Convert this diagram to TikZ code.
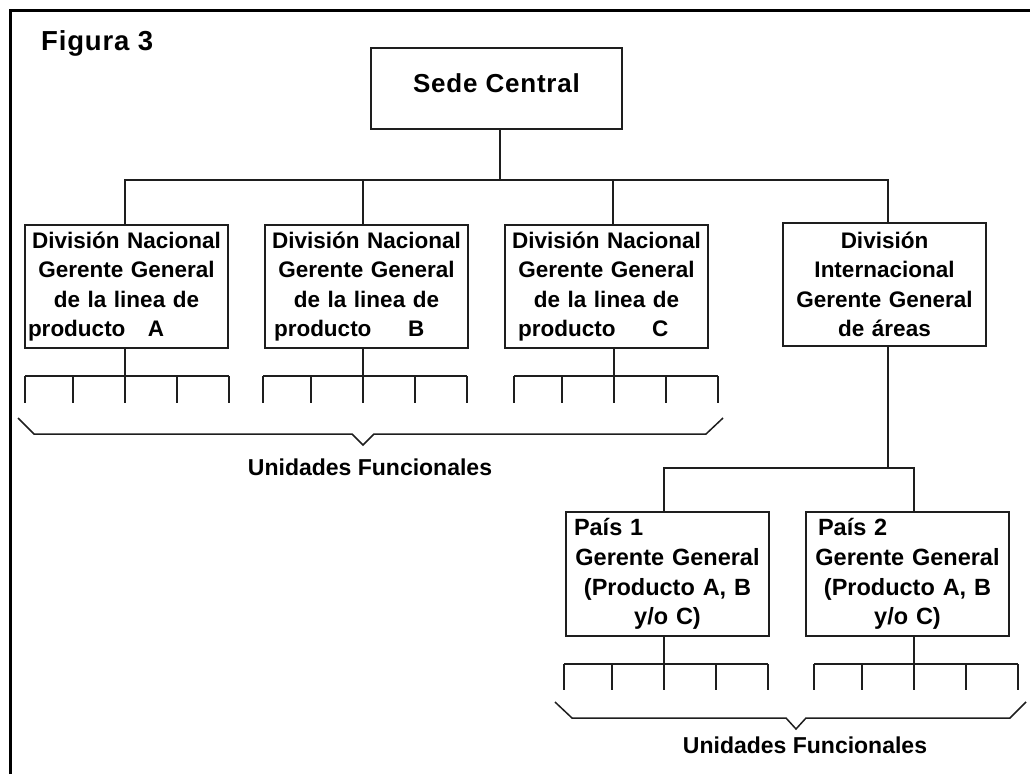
\documentclass[tikz,border=0pt]{standalone}
\usepackage{fontspec}
\setmainfont{Liberation Sans}
\definecolor{linec}{RGB}{30,30,30}
\tikzset{
  conn/.style={draw=linec, line width=1.6pt},
  orgbox/.style={draw=linec, line width=1.6pt, minimum width=203pt, minimum height=123pt,
    inner xsep=3pt, inner ysep=0pt, outer sep=0pt, text width=197pt, align=center,
    font=\fontsize{22.5}{29.5}\selectfont\bfseries},
  paisbox/.style={orgbox, minimum height=124pt, font=\fontsize{23.5}{29.7}\selectfont\bfseries},
  bracel/.style={draw=linec, line width=1.5pt, line join=miter},
  uflabel/.style={font=\fontsize{23}{27}\selectfont\bfseries, anchor=base, inner sep=0pt},
  comb/.pic={
    \draw[conn] (-100,0) -- (104,0);
    \foreach \dx in {-100,-52,0,52,104} \draw[conn] (\dx,0) -- (\dx,#1);
  },
}
\begin{document}
\begin{tikzpicture}[x=1pt,y=-1pt]
\useasboundingbox (0,0) rectangle (1030,774);
\fill[white] (0,0) rectangle (1030,774);
% frame (open towards right and bottom)
\draw[line width=3pt, black] (10,774) -- (10,10) -- (1030,10);

\node[anchor=base west, inner sep=0pt, font=\fontsize{27.5}{32}\selectfont\bfseries\addfontfeature{LetterSpace=3}] (fig) at (41,50) {Figura 3};

\node[draw=linec, line width=1.6pt, outer sep=0pt, minimum width=251pt, minimum height=81pt, inner sep=0pt,
  text height=20pt, text depth=13pt, font=\fontsize{26}{30}\selectfont\bfseries\addfontfeature{LetterSpace=3}]
  (sede) at (496.5,88.5) {Sede Central};

\node[orgbox, anchor=north west] (a) at (25,225) {División Nacional\\Gerente General\\de la linea de\\\makebox[197pt][l]{\rlap{producto}\hspace{120pt}A}};
\node[orgbox, anchor=north west] (b) at (265,225) {División Nacional\\Gerente General\\de la linea de\\\makebox[197pt][l]{\hspace{6pt}\rlap{producto}\hspace{134pt}B}};
\node[orgbox, anchor=north west] (c) at (505,225) {División Nacional\\Gerente General\\de la linea de\\\makebox[197pt][l]{\hspace{10pt}\rlap{producto}\hspace{134pt}C}};
\node[orgbox, anchor=north west] (intl) at (783,223) {División\\Internacional\\Gerente General\\de áreas};

\node[paisbox, anchor=north west] (p1) at (566,512) {\makebox[197pt][l]{\hspace{5pt}País 1}\\Gerente General\\(Producto A, B\\y/o C)};
\node[paisbox, anchor=north west] (p2) at (806,512) {\makebox[197pt][l]{\hspace{9pt}País 2}\\Gerente General\\(Producto A, B\\y/o C)};

% junction points
\coordinate (jS) at (500,180);
\coordinate (jA) at (125,180);
\coordinate (jB) at (363,180);
\coordinate (jC) at (613,180);
\coordinate (jI) at (888,180);
\coordinate (jP) at (888,468);
\coordinate (jP1) at (664,468);
\coordinate (jP2) at (914,468);
\coordinate (combA) at (125,376);
\coordinate (combB) at (363,376);
\coordinate (combC) at (614,376);
\coordinate (combP1) at (664,664);
\coordinate (combP2) at (914,664);

\draw[conn] (jS |- sede.south) -- (jS);
\draw[conn] (jA |- a.north) -- (jA) -- (jI) -- (jI |- intl.north);
\draw[conn] (jB |- b.north) -- (jB);
\draw[conn] (jC |- c.north) -- (jC);

\draw[conn] (combA |- a.south) -- (combA);
\draw[conn] (combB |- b.south) -- (combB);
\draw[conn] (combC |- c.south) -- (combC);
\pic at (combA) {comb=27};
\pic at (combB) {comb=27};
\pic at (combC) {comb=27};

\draw[conn] (jP |- intl.south) -- (jP);
\draw[conn] (jP1 |- p1.north) -- (jP1) -- (jP2) -- (jP2 |- p2.north);
\draw[conn] (combP1 |- p1.south) -- (combP1);
\draw[conn] (combP2 |- p2.south) -- (combP2);
\pic at (combP1) {comb=26};
\pic at (combP2) {comb=26};

% braces
\draw[bracel] (18,418) -- (34,434) -- (352,434) -- (363,445) -- (374,434) -- (706,434) -- (723,418);
\node[uflabel] (uf1) at (370,475) {Unidades Funcionales};
\draw[bracel] (555,702) -- (572,718) -- (786,718) -- (796,729) -- (806,718) -- (1010,718) -- (1026,702);
\node[uflabel] (uf2) at (805,753) {Unidades Funcionales};
\end{tikzpicture}
\end{document}
